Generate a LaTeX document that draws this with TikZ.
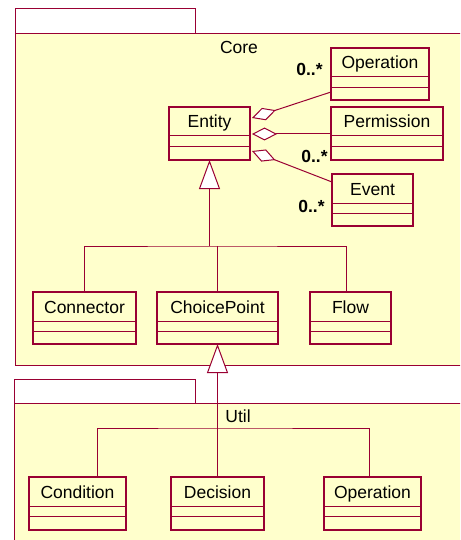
\documentclass[tikz,border=0pt]{standalone}
\usepackage{fontspec}
\setmainfont{Liberation Sans}
\usetikzlibrary{arrows.meta,calc}
\definecolor{umlred}{RGB}{153,0,51}
\definecolor{umlyellow}{RGB}{255,255,204}
\newcommand\umlbox[6]{\node[#6,minimum width={(#4-#2)*1pt},minimum height={(#5-#3)*1pt}] (#1) at (#2,#3) {};}
\newcommand\umlcls[6]{%
  \umlbox{#1}{#2}{#3}{#4}{#5}{clsbox}
  \draw[umlline] ([yshift=-29pt]#1.north west) -- ([yshift=-29pt]#1.north east);
  \draw[umlline] ([yshift=-39.5pt]#1.north west) -- ([yshift=-39.5pt]#1.north east);
  \node[clsname] (#1-name) at ([yshift=-21pt]#1.north) {#6};
}
\begin{document}
\begin{tikzpicture}[x=1pt,y=-1pt,
  umlline/.style={draw=umlred,line width=1pt},
  clsbox/.style={draw=umlred,line width=1.2pt,fill=umlyellow,rectangle,inner sep=0pt,outer sep=0pt,anchor=north west},
  clsname/.style={font=\fontsize{17.5}{20}\selectfont,anchor=base,inner sep=0pt},
  mult/.style={font=\fontsize{17.5}{20}\selectfont\bfseries,anchor=base,inner sep=0pt},
  pkgtab/.style={draw=umlred,line width=1pt,fill=white,rectangle,inner sep=0pt,outer sep=0pt,anchor=north west},
  pkgbody/.style={draw=umlred,line width=1pt,fill=umlyellow,rectangle,inner sep=0pt,outer sep=0pt,anchor=north west},
  agg/.style={umlline,{Diamond[fill=white,length=25pt,width=13pt]}-},
  gen/.style={umlline,-{Triangle[fill=white,length=29pt,width=21pt]}}
]
\useasboundingbox (0,0) rectangle (460,540);
\clip (0,0) rectangle (460,540);
\fill[white] (0,0) rectangle (460,540);
% packages
\umlbox{coretab}{15}{9}{195}{34}{pkgtab}
\umlbox{corebody}{15}{34}{463}{365}{pkgbody}
\node[clsname] (corelbl) at (239,54) {Core};
\umlbox{utiltab}{14}{379}{195}{403}{pkgtab}
\umlbox{utilbody}{14}{403}{463}{570}{pkgbody}
\node[clsname] (utillbl) at (238,422) {Util};
% classes
\umlcls{op1}{331}{48}{429}{100}{Operation}
\umlcls{ent}{169}{107}{250}{160}{Entity}
\umlcls{perm}{331}{107}{443}{160}{Permission}
\umlcls{evt}{332}{174}{413}{226}{Event}
\umlcls{conn}{33}{292}{136}{344}{Connector}
\umlcls{cp}{157}{292}{278}{344}{ChoicePoint}
\umlcls{flow}{310}{292}{391}{344}{Flow}
\umlcls{cond}{29}{477}{126}{530}{Condition}
\umlcls{dec}{171}{477}{264}{530}{Decision}
\umlcls{uop}{324}{477}{421}{530}{Operation}
% aggregations
\draw[agg] ([xshift=2pt,yshift=-11pt]ent.north east) -- ([yshift=-44pt]op1.north west);
\draw[agg] ([xshift=2pt,yshift=-27pt]ent.north east) -- ([yshift=-27pt]perm.north west);
\draw[agg] ([xshift=2pt,yshift=-44pt]ent.north east) -- ([yshift=-8pt]evt.north west);
\node[mult] (m1) at (309.5,76) {0..*};
\node[mult] (m2) at (314.5,162) {0..*};
\node[mult] (m3) at (311.5,212) {0..*};
% generalization core
\coordinate (j1) at (ent.south |- 0,246);
\draw[gen] (j1) -- (ent.south);
\draw[umlline] (conn.north) |- (j1) -| ([xshift=-4.5pt]flow.north);
\draw[umlline] (cp.north) -- (cp.north |- j1);
% generalization util
\coordinate (j2) at (cp.south |- 0,428);
\draw[gen] (j2) -- (cp.south);
\draw[umlline] ([xshift=19.5pt]cond.north) |- (j2) -| ([xshift=-3.5pt]uop.north);
\draw[umlline] (dec.north) -- (dec.north |- j2);
\end{tikzpicture}
\end{document}
